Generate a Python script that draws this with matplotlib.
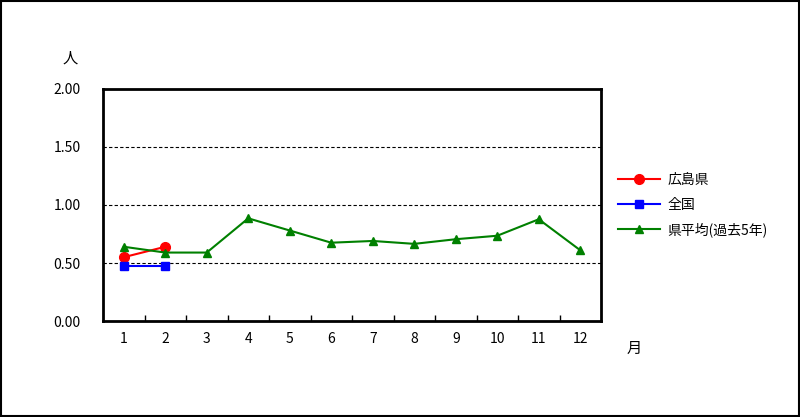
import matplotlib
matplotlib.use('Agg')
from matplotlib import pyplot as plt
from matplotlib.patches import Rectangle

plt.rcParams['font.family'] = ['Noto Sans CJK JP', 'DejaVu Sans']

months = list(range(1, 13))
hiroshima = [0.55, 0.64]
zenkoku = [0.47, 0.47]
avg5 = [0.64, 0.59, 0.59, 0.885, 0.78, 0.675, 0.69, 0.665, 0.705, 0.735, 0.877, 0.61]
yticks = [0.0, 0.5, 1.0, 1.5, 2.0]

fig = plt.figure(figsize=(8, 4.17), dpi=100)
ax = fig.add_axes([0.12875, 0.2302, 0.6225, 0.5564])

ax.plot(months[:2], hiroshima, color='#ff0000', marker='o', markersize=7, lw=1.5, label='広島県')
ax.plot(months[:2], zenkoku, color='#0000ff', marker='s', markersize=6, lw=1.5, label='全国')
ax.plot(months, avg5, color='#008000', marker='^', markersize=6, lw=1.5, label='県平均(過去5年)')

ax.set_xlim(0.5, 12.5)
ax.set_ylim(0, 2)
ax.set_yticks(yticks)
ax.set_yticklabels(['%.2f' % v for v in yticks], fontsize=10)
ax.set_xticks(months)
ax.set_xticklabels([str(m) for m in months], fontsize=10)
ax.set_xticks([m + 0.5 for m in months[:-1]], minor=True)
ax.tick_params(axis='x', which='major', length=0, pad=8)
ax.tick_params(axis='x', which='minor', direction='in', length=4, width=1)
ax.tick_params(axis='y', length=0, pad=16)
for v in yticks[1:-1]:
    ax.axhline(v, color='black', lw=0.8, ls=(0, (3, 2)), zorder=0)
for s in ax.spines.values():
    s.set_linewidth(2)

fig.text(70 / 800, 1 - 58 / 417, '人', fontsize=11, ha='center', va='center')
fig.text(634 / 800, 1 - 348 / 417, '月', fontsize=11, ha='center', va='center')

ax.legend(loc='center left', bbox_to_anchor=(1.01, 0.5), frameon=False, fontsize=10,
          handlelength=3, handletextpad=0.5, labelspacing=0.75)

fig.patches.append(Rectangle((0.001, 0.002), 0.998, 0.996, transform=fig.transFigure,
                             fill=False, edgecolor='black', lw=1.5))

fig.savefig('out.png', dpi=100)
